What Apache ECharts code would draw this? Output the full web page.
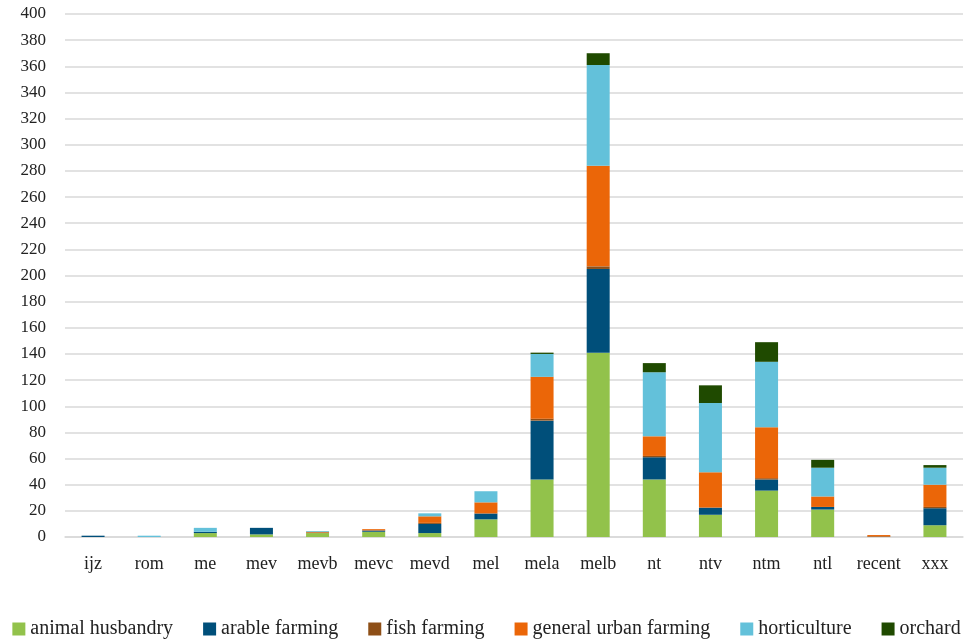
<!DOCTYPE html>
<html>
<head>
<meta charset="utf-8">
<script src="https://cdn.jsdelivr.net/npm/echarts@6/dist/echarts.min.js"></script>
<style>
  html, body { margin: 0; padding: 0; background: #fff; }
  #chart { width: 973px; height: 640px; }
</style>
</head>
<body>
<div id="chart"></div>
<script>
  // categories and stacked values per type
  const categories = ['ijz', 'rom', 'me', 'mev', 'mevb', 'mevc', 'mevd', 'mel', 'mela', 'melb', 'nt', 'ntv', 'ntm', 'ntl', 'recent', 'xxx']
  const animalHusbandry = [0, 0, 3, 2, 3, 4, 3, 13.5, 44, 141, 44, 17, 35.5, 21, 0, 9]
  const arableFarming = [1, 0, 1, 5, 0, 1, 7, 4.5, 45, 64, 17, 5.5, 8.5, 2, 0, 13]
  const fishFarming = [0, 0, 0, 0, 0.5, 0, 0.8, 0, 1.5, 2, 1, 0, 1, 0, 0.5, 1]
  const generalUrbanFarming = [0, 0, 0, 0, 0.5, 1, 5, 8.5, 32, 77, 15, 27, 39, 8, 1, 17]
  const horticulture = [0, 1, 3, 0, 0.6, 0, 2.3, 8.5, 17.5, 77, 49, 53, 50, 22, 0, 13]
  const orchard = [0, 0, 0, 0, 0, 0, 0, 0, 1, 9, 7, 13.5, 15, 6, 0, 2]
  const yTicks = { min: 0, max: 400, interval: 20 }

  const seriesDefs = [
    { name: 'animal husbandry', data: animalHusbandry, color: '#92c24b' },
    { name: 'arable farming', data: arableFarming, color: '#004f7a' },
    { name: 'fish farming', data: fishFarming, color: '#8e4f17' },
    { name: 'general urban farming', data: generalUrbanFarming, color: '#eb6608' },
    { name: 'horticulture', data: horticulture, color: '#63c1da' },
    { name: 'orchard', data: orchard, color: '#1f4a00' }
  ]

  const fontFamily = '"Liberation Serif", serif'
  let chart = echarts.init(document.getElementById('chart'))
  chart.setOption({
    animation: false,
    textStyle: { fontFamily: fontFamily },
    grid: { left: 65, right: 10, top: 14, bottom: 103 },
    legend: {
      top: 614,
      left: 'center',
      itemWidth: 13,
      itemHeight: 13,
      itemGap: 30,
      icon: 'rect',
      textStyle: { fontFamily: fontFamily, fontSize: 20, color: '#222' },
      data: seriesDefs.map(s => s.name)
    },
    xAxis: {
      type: 'category',
      data: categories,
      axisTick: { show: false },
      axisLine: { lineStyle: { color: '#d9d9d9', width: 1.5 } },
      axisLabel: { color: '#222', fontSize: 18, margin: 18, interval: 0, fontFamily: fontFamily }
    },
    yAxis: {
      type: 'value',
      min: yTicks.min,
      max: yTicks.max,
      interval: yTicks.interval,
      axisLine: { show: false },
      axisTick: { show: false },
      splitLine: { lineStyle: { color: '#d9d9d9', width: 1.5 } },
      axisLabel: { color: '#222', fontSize: 17, margin: 19, fontFamily: fontFamily }
    },
    series: seriesDefs.map(s => ({
      name: s.name,
      type: 'bar',
      stack: 'total',
      barWidth: 23,
      data: s.data,
      itemStyle: { color: s.color }
    }))
  })
</script>
</body>
</html>
